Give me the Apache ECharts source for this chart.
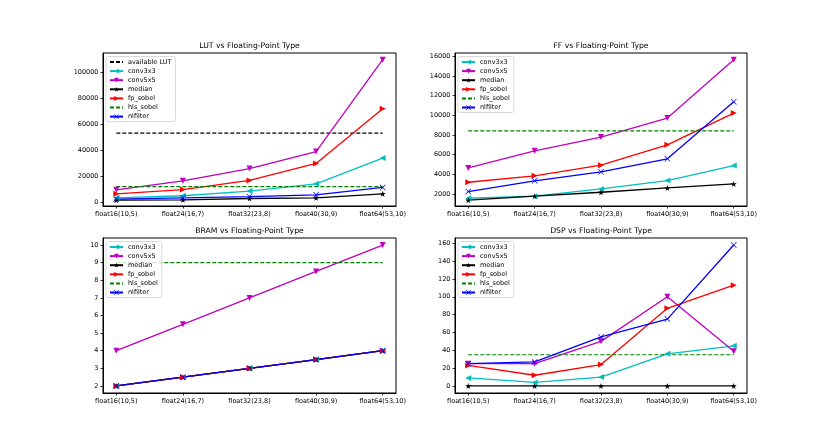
<!DOCTYPE html>
<html>
<head>
<meta charset="utf-8">
<script src="https://cdn.jsdelivr.net/npm/echarts@6/dist/echarts.min.js"></script>
<style>
  html, body { margin: 0; padding: 0; background: #fff; }
  #main { width: 831px; height: 442px; }
</style>
</head>
<body>
<div id="main"></div>
<script>
// categories (x ticks)
var types = ['float16(10,5)', 'float24(16,7)', 'float32(23,8)', 'float40(30,9)', 'float64(53,10)'];

// LUT
var lutAvailable = 53200;
var lutConv3x3 = [3300, 4900, 8500, 14100, 34000];
var lutConv5x5 = [9500, 16400, 25900, 39000, 109800];
var lutMedian = [1500, 1800, 2800, 3300, 6400];
var lutFpSobel = [6400, 9700, 16700, 29800, 72000];
var lutHlsSobel = 11900;
var lutNlfilter = [2300, 3300, 4300, 5600, 11300];
var lutTicks = [0, 20000, 40000, 60000, 80000, 100000];

// FF
var ffConv3x3 = [1560, 1770, 2510, 3360, 4890];
var ffConv5x5 = [4650, 6390, 7790, 9720, 15670];
var ffMedian = [1360, 1770, 2170, 2610, 3020];
var ffFpSobel = [3190, 3840, 4930, 7000, 10230];
var ffHlsSobel = 8430;
var ffNlfilter = [2240, 3330, 4250, 5570, 11390];
var ffTicks = [2000, 4000, 6000, 8000, 10000, 12000, 14000, 16000];

// BRAM
var bramConv3x3 = [2, 2.5, 3, 3.5, 4];
var bramConv5x5 = [4, 5.5, 7, 8.5, 10];
var bramMedian = [2, 2.5, 3, 3.5, 4];
var bramFpSobel = [2, 2.5, 3, 3.5, 4];
var bramHlsSobel = 9;
var bramNlfilter = [2, 2.5, 3, 3.5, 4];
var bramTicks = [2, 3, 4, 5, 6, 7, 8, 9, 10];

// DSP
var dspConv3x3 = [9, 4, 10, 36, 45];
var dspConv5x5 = [25, 25, 50, 100, 39];
var dspMedian = [0, 0, 0, 0, 0];
var dspFpSobel = [23, 12, 24, 87, 113];
var dspHlsSobel = 35;
var dspNlfilter = [25, 27, 55, 75, 158];
var dspTicks = [0, 20, 40, 60, 80, 100, 120, 140, 160];

var FONT = 'DejaVu Sans';
var FS = 6.5;

// matplotlib-ish markers
var SYM_LEFT = 'path://M0,5 L9,0 L9,10 Z';
var SYM_RIGHT = 'path://M9,5 L0,0 L0,10 Z';
var SYM_DOWN = 'path://M0,0 L10,0 L5,9 Z';
var SYM_STAR = 'path://M0,-10 L2.35,-3.24 L9.51,-3.09 L3.8,1.24 L5.88,8.09 L0,4 L-5.88,8.09 L-3.8,1.24 L-9.51,-3.09 L-2.35,-3.24 Z';
var SYM_X = 'path://M-5,-6 L0,-1 L5,-6 L6,-5 L1,0 L6,5 L5,6 L0,1 L-5,6 L-6,5 L-1,0 L-6,-5 Z';

var styles = {
    conv3x3: { color: '#00bfbf', symbol: SYM_LEFT },
    conv5x5: { color: '#bf00bf', symbol: SYM_DOWN },
    median: { color: '#000000', symbol: SYM_STAR },
    fp_sobel: { color: '#ff0000', symbol: SYM_RIGHT },
    nlfilter: { color: '#0000ff', symbol: SYM_X }
};

function pts(values) {
    return values.map(function (v, i) { return [i, v]; });
}

function flat(v) {
    return [[0, v], [types.length - 1, v]];
}

function markerSeries(idx, name, values) {
    var s = styles[name];
    return {
        type: 'line', name: name, xAxisIndex: idx, yAxisIndex: idx,
        data: pts(values),
        symbol: s.symbol, symbolSize: 6,
        lineStyle: { color: s.color, width: 1.3 },
        itemStyle: { color: s.color },
        emphasis: { disabled: true }
    };
}

function dashSeries(idx, name, v, color) {
    return {
        type: 'line', name: name, xAxisIndex: idx, yAxisIndex: idx,
        data: flat(v), symbol: 'none',
        lineStyle: { color: color, width: 1.2, type: [4, 2] },
        itemStyle: { color: color },
        emphasis: { disabled: true }
    };
}

var grids = [
    { left: 103, top: 53, width: 293, height: 153 },
    { left: 455, top: 53, width: 292, height: 153 },
    { left: 103, top: 238, width: 293, height: 155 },
    { left: 455, top: 238, width: 292, height: 155 }
];
var yRanges = [
    { min: -3000, max: 115000, ticks: lutTicks },
    { min: 770, max: 16350, ticks: ffTicks },
    { min: 1.6, max: 10.4, ticks: bramTicks },
    { min: -7.9, max: 165.9, ticks: dspTicks }
];
var titles = ['LUT vs Floating-Point Type', 'FF vs Floating-Point Type',
    'BRAM vs Floating-Point Type', 'DSP vs Floating-Point Type'];

var axisCommon = {
    axisLine: { show: true, onZero: false, lineStyle: { color: '#000', width: 1 } },
    axisTick: { show: true, length: 2.5, lineStyle: { color: '#000', width: 0.8 } },
    splitLine: { show: false }
};

var xAxes = grids.map(function (g, i) {
    return Object.assign({}, axisCommon, {
        type: 'value', gridIndex: i, min: -0.2, max: 4.2,
        axisTick: Object.assign({}, axisCommon.axisTick, { customValues: [0, 1, 2, 3, 4] }),
        axisLabel: {
            customValues: [0, 1, 2, 3, 4], margin: 4.5,
            color: '#000', fontFamily: FONT, fontSize: FS,
            formatter: function (v) { return types[Math.round(v)]; }
        }
    });
});

var yAxes = grids.map(function (g, i) {
    var r = yRanges[i];
    return Object.assign({}, axisCommon, {
        type: 'value', gridIndex: i, min: r.min, max: r.max,
        axisTick: Object.assign({}, axisCommon.axisTick, { customValues: r.ticks }),
        axisLabel: {
            customValues: r.ticks, margin: 4.5,
            color: '#000', fontFamily: FONT, fontSize: FS,
            formatter: function (v) { return String(v); }
        }
    });
});

var series = [
    dashSeries(0, 'available LUT', lutAvailable, '#000000'),
    markerSeries(0, 'conv3x3', lutConv3x3),
    markerSeries(0, 'conv5x5', lutConv5x5),
    markerSeries(0, 'median', lutMedian),
    markerSeries(0, 'fp_sobel', lutFpSobel),
    dashSeries(0, 'hls_sobel', lutHlsSobel, '#008000'),
    markerSeries(0, 'nlfilter', lutNlfilter),

    markerSeries(1, 'conv3x3', ffConv3x3),
    markerSeries(1, 'conv5x5', ffConv5x5),
    markerSeries(1, 'median', ffMedian),
    markerSeries(1, 'fp_sobel', ffFpSobel),
    dashSeries(1, 'hls_sobel', ffHlsSobel, '#008000'),
    markerSeries(1, 'nlfilter', ffNlfilter),

    markerSeries(2, 'conv3x3', bramConv3x3),
    markerSeries(2, 'conv5x5', bramConv5x5),
    markerSeries(2, 'median', bramMedian),
    markerSeries(2, 'fp_sobel', bramFpSobel),
    dashSeries(2, 'hls_sobel', bramHlsSobel, '#008000'),
    markerSeries(2, 'nlfilter', bramNlfilter),

    markerSeries(3, 'conv3x3', dspConv3x3),
    markerSeries(3, 'conv5x5', dspConv5x5),
    markerSeries(3, 'median', dspMedian),
    markerSeries(3, 'fp_sobel', dspFpSobel),
    dashSeries(3, 'hls_sobel', dspHlsSobel, '#008000'),
    markerSeries(3, 'nlfilter', dspNlfilter)
];

var names = ['conv3x3', 'conv5x5', 'median', 'fp_sobel', 'hls_sobel', 'nlfilter'];
var dashedNames = ['available LUT', 'hls_sobel'];

function legendItem(n) {
    if (dashedNames.indexOf(n) >= 0) {
        // line only, hide the marker in the legend
        return { name: n, itemStyle: { color: 'rgba(0,0,0,0)', borderWidth: 0, opacity: 0 } };
    }
    return { name: n };
}

var legends = grids.map(function (g, i) {
    var list = i === 0 ? ['available LUT'].concat(names) : names;
    return {
        orient: 'vertical',
        left: g.left + 3, top: g.top + 3.5,
        data: list.map(legendItem),
        selectedMode: false,
        itemWidth: 13, itemHeight: 6, itemGap: 1.1,
        padding: [1.5, 4, 1, 3],
        borderColor: '#d0d0d0', borderWidth: 0.8, borderRadius: 2,
        backgroundColor: 'rgba(255,255,255,0.8)',
        textStyle: { fontFamily: FONT, fontSize: FS, color: '#000', lineHeight: 8 }
    };
});

var titleOpts = grids.map(function (g, i) {
    return {
        text: titles[i],
        left: g.left + g.width / 2, top: g.top - 10.5,
        textAlign: 'center', padding: 0,
        textStyle: { fontFamily: FONT, fontSize: 7.7, fontWeight: 'normal', color: '#000' }
    };
});

var chartDom = document.getElementById('main');
var myChart = echarts.init(chartDom);
var option = {
    animation: false,
    backgroundColor: '#fff',
    title: titleOpts,
    legend: legends,
    grid: grids.map(function (g) {
        return Object.assign({ show: true, borderColor: '#000', borderWidth: 1, containLabel: false, outerBoundsMode: 'none' }, g);
    }),
    xAxis: xAxes,
    yAxis: yAxes,
    series: series
};
myChart.setOption(option);
</script>
</body>
</html>
